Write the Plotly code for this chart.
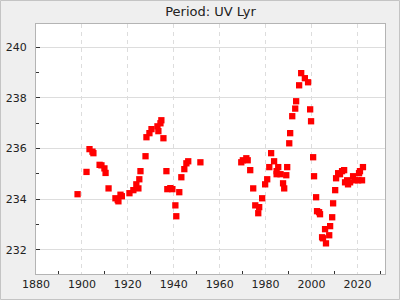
import plotly.graph_objects as go

title_text = "Period: UV Lyr"

years = [
    1898.1, 1902.0, 1903.3, 1904.6, 1905.0, 1907.7, 1908.5, 1909.8, 1910.3, 1911.6,
    1914.6, 1915.6, 1915.9, 1916.8, 1917.4, 1920.7, 1922.4, 1923.7, 1924.6, 1925.0,
    1925.5, 1927.7, 1928.1, 1929.4, 1930.3, 1932.9, 1933.3, 1934.2, 1934.6, 1935.5,
    1936.8, 1937.2, 1938.5, 1939.4, 1940.7, 1941.1, 1942.4, 1943.3, 1944.6, 1945.5,
    1946.3, 1951.6, 1969.4, 1970.1, 1971.6, 1972.2, 1973.3, 1974.6, 1975.5, 1976.8,
    1977.2, 1978.5, 1979.8, 1980.7, 1981.6, 1982.4, 1983.7, 1984.8, 1984.8, 1985.5,
    1986.5, 1987.6, 1988.1, 1989.0, 1989.4, 1990.3, 1990.7, 1991.6, 1992.9, 1993.3,
    1994.6, 1995.5, 1997.1, 1998.5, 1999.4, 1999.8, 2000.7, 2001.1, 2002.0, 2002.4,
    2003.3, 2003.7, 2004.6, 2005.0, 2005.9, 2006.3, 2007.7, 2008.1, 2009.0, 2009.4,
    2010.3, 2010.7, 2011.6, 2012.4, 2013.3, 2014.2, 2014.6, 2015.5, 2015.9, 2016.8,
    2018.1, 2019.0, 2020.3, 2022.0, 2020.7, 2021.1, 2022.4,
]

periods = [
    234.20, 235.08, 235.98, 235.88, 235.82, 235.36, 235.34, 235.22, 235.04, 234.43,
    234.04, 233.97, 233.92, 234.18, 234.12, 234.24, 234.36, 234.59, 234.43, 234.79,
    235.11, 235.70, 236.45, 236.61, 236.77, 236.88, 236.69, 237.00, 237.12, 236.41,
    235.11, 234.40, 234.44, 234.40, 233.76, 233.33, 234.28, 234.87, 235.19, 235.42,
    235.50, 235.46, 235.46, 235.54, 235.62, 235.54, 235.15, 234.43, 233.76, 233.45,
    233.69, 234.04, 234.59, 234.79, 235.27, 235.82, 235.50, 235.11, 234.99, 235.27,
    234.99, 234.63, 234.43, 234.95, 235.27, 236.21, 236.61, 237.28, 237.58, 237.87,
    238.50, 238.98, 238.78, 238.62, 237.55, 237.08, 235.66, 234.91, 234.08, 233.53,
    233.49, 233.41, 232.50, 232.46, 232.82, 232.26, 232.58, 232.94, 233.29, 233.84,
    234.36, 234.83, 235.03, 234.99, 235.11, 235.15, 234.67, 234.75, 234.59, 234.67,
    234.91, 234.75, 234.75, 234.75, 235.03, 235.11, 235.27,
]

x_range = [1880, 2032]
y_range = [231.05, 240.92]

W, H = 400, 300
ML, MR, MT, MB = 36, 15, 24, 26
PW, PH = W - ML - MR, H - MT - MB

fig = go.Figure()
fig.add_trace(go.Scatter(
    x=years, y=periods, mode="markers",
    marker=dict(symbol="square", size=6.3, color="#ff0000", line=dict(width=0)),
    showlegend=False,
))

font = "DejaVu Sans, sans-serif"
fig.update_layout(
    width=W, height=H,
    margin=dict(l=ML, r=MR, t=MT, b=MB, pad=0),
    paper_bgcolor="#efefef",
    plot_bgcolor="#ffffff",
    font=dict(family=font, size=11, color="#222222"),
    title=dict(text=title_text, x=0.5, xanchor="center", y=1 - 11 / H, yanchor="middle",
               xref="paper", font=dict(family=font, size=13, color="#222222")),
    xaxis=dict(
        range=x_range, dtick=20, tick0=1880, ticks="", showgrid=True, automargin=False,
        gridcolor="#dddddd", griddash="4px,4px", gridwidth=1,
        showline=True, mirror=True, linecolor="#b4b4b4", linewidth=1,
        zeroline=False, tickfont=dict(size=11, color="#222222"),
        minor=dict(ticks="inside", ticklen=3, dtick=10, tick0=1880, tickcolor="#333333", showgrid=False),
    ),
    yaxis=dict(
        range=y_range, dtick=2, tick0=232, ticks="inside", ticklen=4, tickcolor="#333333",
        showgrid=True, gridcolor="#dddddd", gridwidth=1, automargin=False,
        showline=True, mirror=True, linecolor="#b4b4b4", linewidth=1,
        zeroline=False, tickfont=dict(size=11, color="#222222"), ticklabelstandoff=6,
        minor=dict(ticks="inside", ticklen=3, dtick=1, tick0=232, tickcolor="#333333", showgrid=False),
    ),
    shapes=[dict(
        type="rect", xref="paper", yref="paper",
        x0=(0.5 - ML) / PW, x1=(W - 0.5 - ML) / PW,
        y0=-(MB - 0.5) / PH, y1=1 + (MT - 0.5) / PH,
        line=dict(color="#c4c4c4", width=1), fillcolor="rgba(0,0,0,0)", layer="below",
    )],
)

fig.write_html("out.html")
